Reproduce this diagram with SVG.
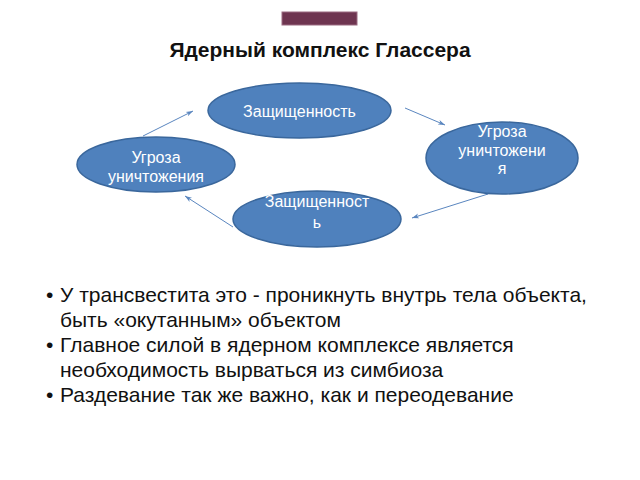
<svg xmlns="http://www.w3.org/2000/svg" width="640" height="480" viewBox="0 0 640 480">
<style>
.n{fill:#4f81bd;stroke:#3a679c;stroke-width:1.5}
.t{font-family:"Liberation Sans",Arial,sans-serif;font-size:16px;fill:#fff;text-anchor:middle}
.c{stroke:#5a86bf;stroke-width:1;fill:none;marker-end:url(#a)}
.b{font-family:"Liberation Sans",Arial,sans-serif;font-size:21px;fill:#111}
</style>
<defs>
<marker id="a" markerWidth="8" markerHeight="6" refX="7" refY="3" orient="auto" markerUnits="userSpaceOnUse">
<path d="M0,0.5 L7,3 L0,5.5 L2,3 Z" fill="#5a86bf"/>
</marker>
</defs>
<rect x="282" y="12" width="75" height="13" fill="#6e3550" stroke="#9a6a80" stroke-width="1"/>
<text x="320" y="57" text-anchor="middle" font-family="Liberation Sans,Arial,sans-serif" font-size="21" font-weight="bold" fill="#111">Ядерный комплекс Глассера</text>
<g id="connectors">
<line class="c" x1="143" y1="136" x2="193" y2="111"/>
<line class="c" x1="405" y1="108" x2="445" y2="125"/>
<line class="c" x1="488" y1="194" x2="412" y2="218"/>
<line class="c" x1="233" y1="227" x2="185" y2="196"/>
</g>
<g id="node-top">
<ellipse class="n" cx="299.5" cy="110.5" rx="91.5" ry="27.5"/>
<text class="t" x="299.5" y="117">Защищенность</text>
</g>
<g id="node-left">
<ellipse class="n" cx="156" cy="164.5" rx="79" ry="27.5"/>
<text class="t" x="156" y="163">Угроза</text>
<text class="t" x="156" y="182">уничтожения</text>
</g>
<g id="node-right">
<ellipse class="n" cx="502" cy="158" rx="76" ry="36"/>
<text class="t" x="502" y="137">Угроза</text>
<text class="t" x="502" y="156">уничтожени</text>
<text class="t" x="502" y="174">я</text>
</g>
<g id="node-bottom">
<ellipse class="n" cx="317" cy="219" rx="84" ry="28"/>
<text class="t" x="317" y="207">Защищенност</text>
<text class="t" x="317" y="228">ь</text>
</g>
<g id="bullets">
<text class="b" x="46" y="302">•</text>
<text class="b" x="60" y="302">У трансвестита это - проникнуть внутрь тела объекта,</text>
<text class="b" x="60" y="327">быть «окутанным» объектом</text>
<text class="b" x="46" y="352">•</text>
<text class="b" x="60" y="352">Главное силой в ядерном комплексе является</text>
<text class="b" x="60" y="377">необходимость вырваться из симбиоза</text>
<text class="b" x="46" y="402">•</text>
<text class="b" x="60" y="402">Раздевание так же важно, как и переодевание</text>
</g>
</svg>
